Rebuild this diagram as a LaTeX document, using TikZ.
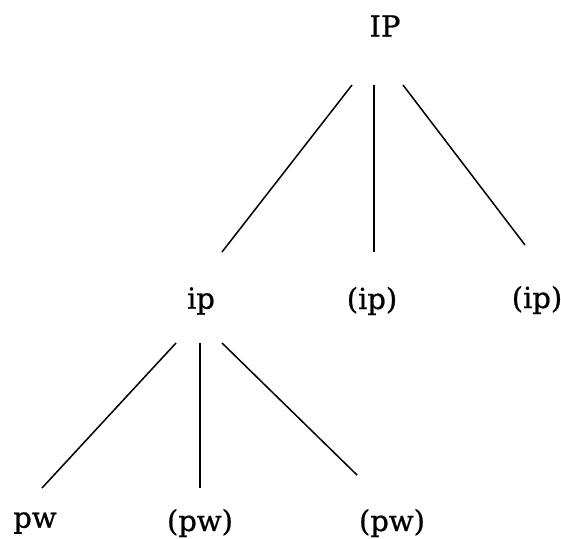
\documentclass[tikz,border=0pt]{standalone}
\usepackage{fontspec}
\setmainfont{DejaVu Serif}
\newfontface\treefont{DejaVu Serif}[FakeBold=0.8]
\tikzset{
  lbl/.style={font=\treefont\fontsize{29}{32}\selectfont, inner sep=0pt},
  branch/.style={line width=1.5pt}
}
\begin{document}
\begin{tikzpicture}[x=1pt,y=-1pt]
    \useasboundingbox (0,0) rectangle (561,538);

    % Labels of the tree
    \node[lbl] (IP) at (385,26) {IP};
    \node[lbl] (ipA) at (201,301) {ip};
    \node[lbl] (ipB) at (372,301) {(ip)};
    \node[lbl] (ipC) at (537,300) {(ip)};
    \node[lbl] (pwA) at (35,523) {pw};
    \node[lbl] (pwB) at (200,523) {(pw)};
    \node[lbl] (pwC) at (392,523) {(pw)};

    % Ends of the branches
    \coordinate (IPl) at (352,85);
    \coordinate (IPm) at (374,85);
    \coordinate (IPr) at (403,85);
    \coordinate (ipAtop) at (222,252);
    \coordinate (ipBtop) at (374,252);
    \coordinate (ipCtop) at (525,245);
    \coordinate (ipl) at (176,343);
    \coordinate (ipm) at (200,343);
    \coordinate (ipr) at (222,343);
    \coordinate (pwAtop) at (42,488);
    \coordinate (pwBtop) at (200,488);
    \coordinate (pwCtop) at (357,475);

    % Branches from IP
    \draw[branch] (IPl) -- (ipAtop);
    \draw[branch] (IPm) -- (ipBtop);
    \draw[branch] (IPr) -- (ipCtop);

    % Branches from ip
    \draw[branch] (ipl) -- (pwAtop);
    \draw[branch] (ipm) -- (pwBtop);
    \draw[branch] (ipr) -- (pwCtop);
\end{tikzpicture}
\end{document}
